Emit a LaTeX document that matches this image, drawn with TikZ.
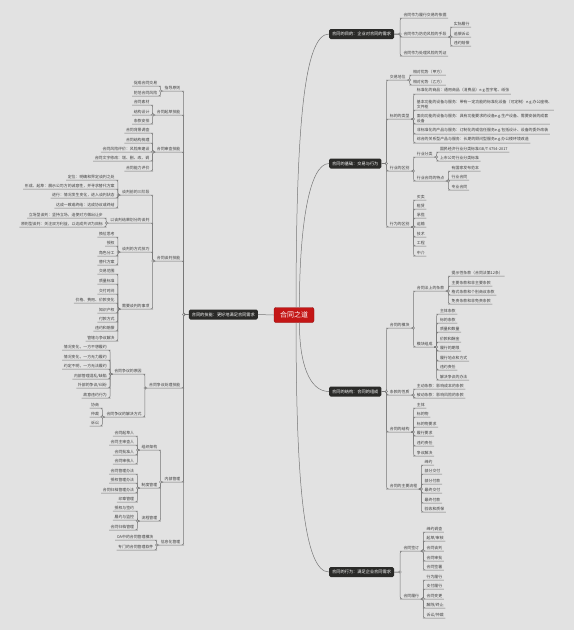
\documentclass[tikz,border=0pt]{standalone}
\usepackage{fontspec}
\setmainfont{Noto Sans CJK SC}
\definecolor{bggray}{RGB}{226,226,226}
\definecolor{linegray}{RGB}{118,118,118}
\definecolor{textgray}{RGB}{62,62,62}
\definecolor{topicdark}{RGB}{42,42,40}
\definecolor{hubred}{RGB}{196,22,22}
\newcommand\rlink[3]{\foreach \kid in {#3}{\draw[link] (#1) -- ++(#2,0) |- (\kid.south west) -- (\kid.south east);}\filldraw[jdot] (#1) ++(#2,0) circle (1.1pt);}
\newcommand\llink[3]{\foreach \kid in {#3}{\draw[link] (#1) -- ++(-#2,0) |- (\kid.south east) -- (\kid.south west);}\filldraw[jdot] (#1) ++(-#2,0) circle (1.1pt);}

\begin{document}
\begin{tikzpicture}[x=1pt, y=-1pt,
 link/.style={draw=linegray, line width=0.5pt, rounded corners=2pt},
 jdot/.style={draw=linegray, fill=white, line width=0.4pt},
 rt/.style={anchor=south west, text=textgray, font=\fontsize{3.9}{5}\selectfont, inner xsep=1.5pt, inner ysep=0.9pt, align=left},
 lt/.style={rt, anchor=south east, align=right},
 main/.style={anchor=west, fill=topicdark, text=white, rounded corners=1.5pt, font=\fontsize{4.2}{5}\selectfont, inner xsep=3pt, inner ysep=0pt, minimum height=10pt},
 hub/.style={fill=hubred, draw=hubred!75!black, text=white, rounded corners=2pt, font=\fontsize{7}{8}\selectfont, minimum width=40pt, minimum height=15pt, inner sep=0pt}]
 \fill[bggray] (0,0) rectangle (574,630);
 \node[hub] (ctr) at (294,315){合同之道};
 \node[main] (goal) at (329,34){合同的目的：企业对合同的需求};
 \node[main] (base) at (329,163.5){合同的基础：交易与行为};
 \node[main] (frame) at (329,391.5){合同的结构：合同的组成};
 \node[main] (act) at (329,572){合同的行为：满足企业合同需求};
 \node[main, anchor=east] (skill) at (258,314.5){合同的技能：更好地满足合同需求};
 \draw[link] (ctr.75) .. controls +(0,-180) and +(-25,0) .. (goal.west);
 \draw[link] (ctr.55) .. controls +(0,-80) and +(-20,0) .. (base.west);
 \draw[link] (ctr.-55) .. controls +(0,40) and +(-20,0) .. (frame.west);
 \draw[link] (ctr.-75) .. controls +(0,160) and +(-25,0) .. (act.west);
 \draw[link] (ctr.west) -- (skill.east);

 \node[rt] (g1) at (401.8,18){合同作为履行交易的依据};
 \node[rt] (g2) at (401.8,37){合同作为防范风险的手段};
 \node[rt] (g3) at (401.8,56){合同作为处理风险的凭证};
 \foreach \t/\y [count=\i] in {实际履行/27,追偿诉讼/37,违约赔偿/46} \node[rt] (g2\i) at (452.2,\y){\t};
 \rlink{goal.east}{6}{g1,g2,g3}
 \rlink{g2.south east}{2.5}{g21,g22,g23}

 \node[rt] (b1) at (388.2,80){交易地位};
 \node[rt] (b2) at (388.2,119){标的的类型};
 \node[rt] (b3) at (388.2,171){行业的区别};
 \node[rt] (b4) at (388.2,227){行为的区别};
 \foreach \t/\y [count=\i] in {相对优势（甲方）/75,相对劣势（乙方）/85} \node[rt] (b1\i) at (411.3,\y){\t};
 \foreach \t/\y [count=\i] in {{标准化的商品：通用商品（消费品）e.g.签字笔、纸张}/94,
   {基本功能的设备与服务：带有一定功能的标准化设备（可定制）e.g.办公座椅、\\文件柜}/110,
   {面向功能的设备与服务：具有功能要求的设备e.g.生产设备、需要安装的成套\\设备}/124,
   {非标准化的产品与服务：订制化的或信任服务e.g.包括设计、设备的委外改装}/134,
   {综合的关系型产品与服务：长期的顾问型服务e.g.办公楼环境改造}/143} \node[rt] (b2\i) at (415.2,\y){\t};
 \node[rt] (b31) at (415.2,157){行业分类};
 \node[rt] (b32) at (415.2,181){行业合同的特点};
 \foreach \t/\y [count=\i] in {{国民经济行业分类标准GB/T 4754-2017}/152,上市公司行业分类标准/161} \node[rt] (b31\i) at (438.3,\y){\t};
 \foreach \t/\y [count=\i] in {有国家发布范本/171,行业合同/180,专业合同/190} \node[rt] (b32\i) at (450,\y){\t};
 \foreach \t/\y [count=\i] in {买卖/200,租赁/209,承揽/218,运输/227,技术/237,工程/246,中介/256} \node[rt] (b4\i) at (415.2,\y){\t};
 \rlink{base.east}{5}{b1,b2,b3,b4}
 \rlink{b1.south east}{2.5}{b11,b12}
 \rlink{b2.south east}{2.5}{b21,b22,b23,b24,b25}
 \rlink{b3.south east}{2.5}{b31,b32}
 \rlink{b31.south east}{2.5}{b311,b312}
 \rlink{b32.south east}{2.5}{b321,b322,b323}
 \rlink{b4.south east}{2.5}{b41,b42,b43,b44,b45,b46,b47}

 \node[rt] (f1) at (388.2,328){合同的模块};
 \node[rt] (f2) at (388.2,395){条款的性质};
 \node[rt] (f3) at (388.2,432){合同的结构};
 \node[rt] (f4) at (388.2,489){合同的主要流程};
 \node[rt] (f11) at (415.2,291){合同法上的条款};
 \node[rt] (f12) at (415.2,347){模块组成};
 \foreach \t/\y [count=\i] in {提示性条款（合同法第12条）/276,主要条款和非主要条款/286,格式条款和个别商议条款/295,免责条款和非免责条款/304} \node[rt] (f11\i) at (450,\y){\t};
 \foreach \t/\y [count=\i] in {主体条款/314,标的条款/323,质量和数量/332,价款和酬金/342,履行的期限/351,履行地点和方式/361,违约责任/370,解决争议的办法/380} \node[rt] (f12\i) at (438.3,\y){\t};
 \foreach \t/\y [count=\i] in {主动条款：影响成本的条款/389,被动条款：影响风险的条款/398} \node[rt] (f2\i) at (415.2,\y){\t};
 \foreach \t/\y [count=\i] in {主体/408,标的物/417,标的物要求/427,履行要求/436,违约责任/446,争议解决/456} \node[rt] (f3\i) at (415.2,\y){\t};
 \foreach \t/\y [count=\i] in {缔约/465,部分交付/474,部分付款/484,最终交付/493,最终付款/503,验收和质保/512} \node[rt] (f4\i) at (423,\y){\t};
 \rlink{frame.east}{5}{f1,f2,f3,f4}
 \rlink{f1.south east}{2.5}{f11,f12}
 \rlink{f11.south east}{2.5}{f111,f112,f113,f114}
 \rlink{f12.south east}{2.5}{f121,f122,f123,f124,f125,f126,f127,f128}
 \rlink{f2.south east}{2.5}{f21,f22}
 \rlink{f3.south east}{2.5}{f31,f32,f33,f34,f35,f36}
 \rlink{f4.south east}{2.5}{f41,f42,f43,f44,f45,f46}

 \node[rt] (a1) at (401.8,551){合同签订};
 \node[rt] (a2) at (401.8,599){合同履行};
 \foreach \t/\y [count=\i] in {缔约调查/532,{起草/审核}/541,合同谈判/551,合同审批/561,合同签署/570} \node[rt] (a1\i) at (424.9,\y){\t};
 \foreach \t/\y [count=\i] in {行为履行/580,支付履行/589,合同变更/599,{解除/终止}/608,{诉讼/仲裁}/618} \node[rt] (a2\i) at (424.9,\y){\t};
 \rlink{act.east}{6}{a1,a2}
 \rlink{a1.south east}{2.5}{a11,a12,a13,a14,a15}
 \rlink{a2.south east}{2.5}{a21,a22,a23,a24,a25}

 \node[lt] (s1) at (182,91){指导原则};
 \node[lt] (s2) at (182,115){合同起草技能};
 \node[lt] (s3) at (182,152){合同审查技能};
 \node[lt] (s4) at (182,261){合同谈判技能};
 \node[lt] (s5) at (182,388){合同争议处理技能};
 \node[lt] (s6) at (182,482){内部管理};
 \node[lt] (s7) at (182,545){信息化管理};
 \foreach \t/\y [count=\i] in {促成合同交易/86,防范合同风险/96} \node[lt] (s1\i) at (158.9,\y){\t};
 \foreach \t/\y [count=\i] in {合同素材/105,结构设计/115,条款安排/124} \node[lt] (s2\i) at (151.1,\y){\t};
 \foreach \t/\y [count=\i] in {合同背景调查/133,合同结构梳理/143,合同风险评价：风险库建设/152,合同文字修改：增、删、改、调/161,合同能力评价/171} \node[lt] (s3\i) at (151.1,\y){\t};
 \node[lt] (s41) at (151.1,195){谈判前的三阶段};
 \node[lt] (s42) at (151.1,223){以谈判结果划分的谈判};
 \node[lt] (s43) at (151.1,252){谈判的方式技巧};
 \node[lt] (s44) at (151.1,309){需要谈判的事项};
 \foreach \t/\y [count=\i] in {定位：明确和界定谈判之处/180,形成、起草：展示公司方的诚意性，并寻求替代方案/189,进行：情况发生变化，进入谈判状态/198,达成一致或终结：达成协议或终结/208} \node[lt] (s41\i) at (116.3,\y){\t};
 \foreach \t/\y [count=\i] in {立场型谈判：坚持立场，迫使对方做出让步/218,原则型谈判：关注双方利益，以达成共识为目标/227} \node[lt] (s42\i) at (104.6,\y){\t};
 \foreach \t/\y [count=\i] in {换位思考/237,授权/246,角色分工/256,替代方案/265} \node[lt] (s43\i) at (116.3,\y){\t};
 \foreach \t/\y [count=\i] in {交易范围/274,质量标准/284,交付时间/294,价格、费用、价款变化/303,知识产权/313,付款方式/322,违约和赔偿/331,管辖与争议解决/341} \node[lt] (s44\i) at (116.3,\y){\t};
 \node[lt] (s51) at (143.3,374){合同争议的原因};
 \node[lt] (s52) at (143.3,417){合同争议的解决方式};
 \foreach \t/\y [count=\i] in {情况变化，一方不想履约/350,情况变化，一方无力履约/360,约定不明，一方无法履约/369,{内部管理混乱/缺陷}/379,{外部的争议/纠纷}/388,故意违约行为/398} \node[lt] (s51\i) at (108.5,\y){\t};
 \foreach \t/\y [count=\i] in {协商/408,仲裁/417,诉讼/426} \node[lt] (s52\i) at (100.7,\y){\t};
 \node[lt] (s61) at (158.9,450){组织架构};
 \node[lt] (s62) at (158.9,488){制度管理};
 \node[lt] (s63) at (158.9,521){流程管理};
 \foreach \t/\y [count=\i] in {合同起草人/436,合同主审查人/445,合同批准人/455,合同审核人/464} \node[lt] (s61\i) at (135.8,\y){\t};
 \foreach \t/\y [count=\i] in {合同管理办法/474,授权管理办法/483,合同归档管理办法/493,印章管理/502} \node[lt] (s62\i) at (135.8,\y){\t};
 \foreach \t/\y [count=\i] in {授权与签约/511,履约与监控/520,合同归档管理/530} \node[lt] (s63\i) at (135.8,\y){\t};
 \foreach \t/\y [count=\i] in {OA中的合同管理模块/540,专门的合同管理软件/550} \node[lt] (s7\i) at (155,\y){\t};
 \llink{skill.west}{5}{s1,s2,s3,s4,s5,s6,s7}
 \llink{s1.south west}{2.5}{s11,s12}
 \llink{s2.south west}{2.5}{s21,s22,s23}
 \llink{s3.south west}{2.5}{s31,s32,s33,s34,s35}
 \llink{s4.south west}{2.5}{s41,s42,s43,s44}
 \llink{s41.south west}{2.5}{s411,s412,s413,s414}
 \llink{s42.south west}{2.5}{s421,s422}
 \llink{s43.south west}{2.5}{s431,s432,s433,s434}
 \llink{s44.south west}{2.5}{s441,s442,s443,s444,s445,s446,s447,s448}
 \llink{s5.south west}{2.5}{s51,s52}
 \llink{s51.south west}{2.5}{s511,s512,s513,s514,s515,s516}
 \llink{s52.south west}{2.5}{s521,s522,s523}
 \llink{s6.south west}{2.5}{s61,s62,s63}
 \llink{s61.south west}{2.5}{s611,s612,s613,s614}
 \llink{s62.south west}{2.5}{s621,s622,s623,s624}
 \llink{s63.south west}{2.5}{s631,s632,s633}
 \llink{s7.south west}{2.5}{s71,s72}
\end{tikzpicture}
\end{document}
